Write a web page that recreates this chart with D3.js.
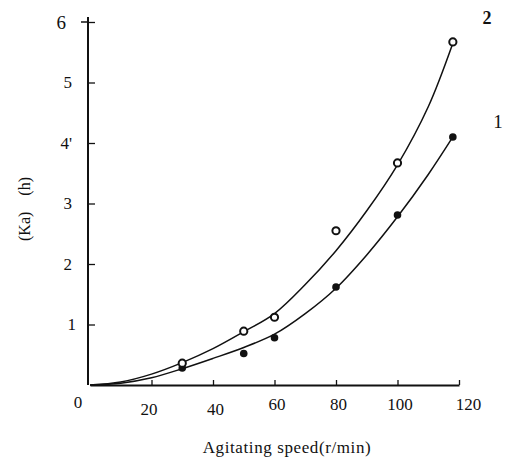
<!DOCTYPE html>
<html><head><meta charset="utf-8">
<script src="https://cdn.jsdelivr.net/npm/d3@7"></script>
<style>body{margin:0;background:#fff}svg{display:block}</style>
</head><body>
<script>
// Data
const speeds1 = [30, 50, 60, 80, 100, 118];
const ka1 = [0.28, 0.52, 0.78, 1.62, 2.81, 4.1];      // series 1 (filled dots)
const speeds2 = [30, 50, 60, 80, 100, 118];
const ka2 = [0.36, 0.89, 1.12, 2.55, 3.67, 5.67];     // series 2 (open circles)
const curveX = [0, 10, 20, 30, 40, 50, 60, 70, 80, 90, 100, 110, 118];
const curve1Y = [0, 0.03, 0.12, 0.27, 0.44, 0.62, 0.84, 1.18, 1.6, 2.15, 2.78, 3.48, 4.1];
const curve2Y = [0, 0.05, 0.18, 0.37, 0.6, 0.88, 1.18, 1.66, 2.22, 2.88, 3.64, 4.6, 5.65];
const xTicks = [20, 40, 60, 80, 100, 120];
const yTicks = [1, 2, 3, 4, 5, 6];
const yTickLabels = ["1", "2", "3", "4'", "5", "6"];
const seriesNames = ["1", "2"];

const FONT = "Liberation Serif";
const W = 514, H = 460;
const svg = d3.select("body").append("svg").attr("width", W).attr("height", H);
const x = d3.scaleLinear().domain([0, 120]).range([90, 459]);
const y = d3.scaleLinear().domain([0, 6]).range([385, 22]);

// X axis
const gx = svg.append("g").attr("transform", `translate(0,${y(0)})`)
  .call(d3.axisBottom(x).tickValues(xTicks).tickSizeInner(-5).tickSizeOuter(0).tickPadding(0));
gx.select(".domain").attr("stroke", "#111").attr("stroke-width", 2);
gx.selectAll(".tick line").attr("stroke", "#111").attr("stroke-width", 1.3);
gx.selectAll(".tick text").attr("font-size", 17).attr("dy", "0.71em").attr("fill", "#111")
  .attr("dx", d => d === 120 ? 9 : (d === 20 ? -3 : 2))
  .attr("y", d => (d === 20 || d === 40) ? 18 : 13);
svg.append("text").attr("x", x(0) - 12).attr("y", y(0) + 23).attr("text-anchor", "middle")
  .attr("font-size", 17).attr("fill", "#111").text("0");

// Y axis
const gy = svg.append("g").attr("transform", `translate(${x(0) - 2},0)`)
  .call(d3.axisLeft(y).tickValues(yTicks).tickFormat((d, i) => yTickLabels[i])
    .tickSizeInner(-7).tickSizeOuter(0).tickPadding(16));
gy.select(".domain").attr("stroke", "#111").attr("stroke-width", 2)
  .attr("d", `M0,${y(0)}V${y(6) - 5}`);
gy.selectAll(".tick line").attr("stroke", "#111").attr("stroke-width", 1.3);
gy.selectAll(".tick text").attr("font-size", d => d === 6 ? 19 : 17).attr("fill", "#111")
  .attr("dx", d => d === 6 ? -6 : (d === 1 ? 4 : 0));
// cross at top tick
svg.append("line").attr("x1", x(0) - 9).attr("x2", x(0) - 2).attr("y1", y(6)).attr("y2", y(6))
  .attr("stroke", "#111").attr("stroke-width", 1.5);

// Axis titles
svg.append("text").attr("x", 287).attr("y", 453).attr("text-anchor", "middle")
  .attr("font-size", 17).attr("letter-spacing", 0.6).attr("fill", "#111").text("Agitating speed(r/min)");
svg.append("text").attr("transform", "translate(30,209) rotate(-90)").attr("text-anchor", "middle")
  .attr("font-size", 16).attr("fill", "#111").style("white-space", "pre").text("(Ka)    (h)");

// Curves
const line = d3.line().x(d => x(d[0])).y(d => y(d[1])).curve(d3.curveCatmullRom.alpha(0.5));
[curve1Y, curve2Y].forEach(cy => {
  svg.append("path").datum(curveX.map((v, i) => [v, cy[i]])).attr("d", line)
    .attr("fill", "none").attr("stroke", "#111").attr("stroke-width", 1.5);
});

// Points
svg.selectAll(".p1").data(speeds1.map((v, i) => [v, ka1[i]])).enter().append("circle")
  .attr("cx", d => x(d[0])).attr("cy", d => y(d[1])).attr("r", 3.8).attr("fill", "#111");
svg.selectAll(".p2").data(speeds2.map((v, i) => [v, ka2[i]])).enter().append("circle")
  .attr("cx", d => x(d[0])).attr("cy", d => y(d[1])).attr("r", 3.6)
  .attr("fill", "#fff").attr("stroke", "#111").attr("stroke-width", 2);

// Series labels
svg.append("text").attr("x", 498).attr("y", 128).attr("text-anchor", "middle").attr("font-size", 19)
  .attr("fill", "#111").text(seriesNames[0]);
svg.append("text").attr("x", 487).attr("y", 24).attr("text-anchor", "middle").attr("font-size", 18)
  .attr("font-weight", "bold").attr("fill", "#111").text(seriesNames[1]);

// Apply serif font on every text element explicitly
svg.selectAll("g").attr("font-family", FONT);
svg.selectAll("text").attr("font-family", FONT).style("font-family", FONT);
</script>
</body></html>
